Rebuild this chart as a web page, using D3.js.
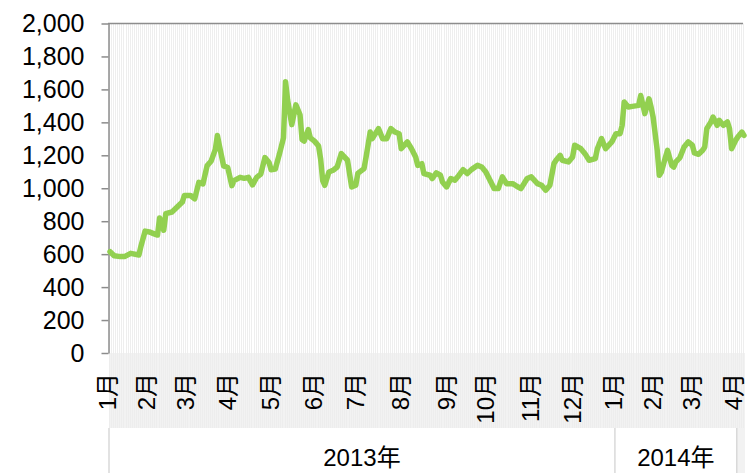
<!DOCTYPE html>
<html><head><meta charset="utf-8">
<script src="https://cdn.jsdelivr.net/npm/d3@7"></script>
<style>body{margin:0;background:#fff;} svg{display:block;}</style>
</head><body><svg id="c" width="749" height="473"></svg>
<script>
// Japanese market holidays (non-trading weekdays) in the period
const holidays = ["2013-01-01","2013-01-02","2013-01-03","2013-01-14","2013-02-11","2013-03-20","2013-04-29","2013-05-03","2013-05-06","2013-07-15","2013-09-16","2013-09-23","2013-10-14","2013-11-04","2013-12-23","2013-12-31","2014-01-01","2014-01-02","2014-01-03","2014-01-13","2014-02-11","2014-03-21"];
const firstDay = "2013-01-01";
const lastDay = "2014-04-07";
const yTicks = [0,200,400,600,800,1000,1200,1400,1600,1800,2000];
const yearLabels = {2013: "2013年", 2014: "2014年"};

const dates = ["2013-01-04","2013-01-08","2013-01-11","2013-01-16","2013-01-21","2013-01-25","2013-01-28","2013-01-30",
"2013-02-01","2013-02-06","2013-02-07","2013-02-08","2013-02-13","2013-02-14","2013-02-19","2013-02-21","2013-02-26","2013-02-27",
"2013-03-04","2013-03-06","2013-03-08","2013-03-12","2013-03-14","2013-03-18","2013-03-21","2013-03-22","2013-03-25","2013-03-27","2013-03-29",
"2013-04-02","2013-04-03","2013-04-08","2013-04-10","2013-04-12","2013-04-16","2013-04-18","2013-04-22","2013-04-24","2013-04-26","2013-04-30",
"2013-05-02","2013-05-08","2013-05-10","2013-05-13","2013-05-14","2013-05-16","2013-05-20","2013-05-22","2013-05-23","2013-05-24","2013-05-28","2013-05-29","2013-05-31",
"2013-06-04","2013-06-05","2013-06-06","2013-06-07","2013-06-11","2013-06-13","2013-06-17","2013-06-19","2013-06-24","2013-06-26","2013-06-28",
"2013-07-01","2013-07-04","2013-07-05","2013-07-09","2013-07-10","2013-07-16","2013-07-18","2013-07-22","2013-07-24","2013-07-26","2013-07-30","2013-07-31",
"2013-08-05","2013-08-07","2013-08-09","2013-08-12","2013-08-14","2013-08-15","2013-08-20","2013-08-21","2013-08-23","2013-08-27","2013-08-28","2013-08-30",
"2013-09-03","2013-09-05","2013-09-09","2013-09-11","2013-09-13","2013-09-18","2013-09-24","2013-09-26","2013-09-30",
"2013-10-02","2013-10-04","2013-10-08","2013-10-10","2013-10-15","2013-10-18","2013-10-22","2013-10-24","2013-10-29","2013-10-31",
"2013-11-06","2013-11-08","2013-11-12","2013-11-14","2013-11-18","2013-11-19","2013-11-21","2013-11-22","2013-11-27","2013-11-29",
"2013-12-02","2013-12-05","2013-12-09","2013-12-11","2013-12-16","2013-12-17","2013-12-19","2013-12-24","2013-12-27",
"2014-01-06","2014-01-08","2014-01-09","2014-01-10","2014-01-15","2014-01-17","2014-01-22","2014-01-23","2014-01-27","2014-01-29","2014-01-30","2014-01-31",
"2014-02-03","2014-02-04","2014-02-05","2014-02-06","2014-02-10","2014-02-12","2014-02-14","2014-02-17","2014-02-18","2014-02-20","2014-02-24","2014-02-26","2014-02-28",
"2014-03-03","2014-03-05","2014-03-07","2014-03-10","2014-03-11","2014-03-13","2014-03-14","2014-03-18","2014-03-19","2014-03-24","2014-03-26","2014-03-27","2014-03-28",
"2014-04-01","2014-04-02","2014-04-04","2014-04-07"];
const values = [615,590,585,585,605,595,650,740,
735,720,716,820,745,846,856,880,916,956,
956,936,1036,1026,1136,1166,1236,1320,1256,1136,1126,
1016,1046,1066,1060,1066,1020,1066,1086,1186,1156,1112,
1116,1206,1306,1646,1536,1386,1506,1446,1296,1286,1356,1306,1286,
1256,1176,1046,1018,1099,1109,1129,1210,1170,1008,1018,
1090,1119,1190,1341,1301,1362,1301,1301,1362,1341,1331,1240,
1281,1240,1190,1139,1149,1089,1079,1059,1093,1079,1038,1008,
1059,1049,1079,1113,1089,1113,1139,1129,1099,
1049,998,998,1069,1028,1028,1012,998,1059,1069,
1028,1018,988,1018,1150,1170,1200,1170,1160,1190,
1261,1240,1210,1170,1180,1240,1301,1240,1281,
1331,1331,1382,1523,1493,1497,1503,1563,1453,1543,1493,1432,
1331,1230,1079,1099,1190,1230,1139,1129,1160,1186,1250,1281,1261,
1214,1206,1230,1250,1362,1402,1432,1382,1412,1382,1402,1362,1240,
1291,1311,1341,1321];

const fmt = d3.timeFormat("%Y-%m-%d");
const parse = d3.timeParse("%Y-%m-%d");
const hol = new Set(holidays);
const days = d3.timeDay.range(parse(firstDay), d3.timeDay.offset(parse(lastDay), 1))
  .filter(d => d.getDay() !== 0 && d.getDay() !== 6 && !hol.has(fmt(d)));
const keys = days.map(fmt);

const L = 109, R = 745, T = 23.5, B = 353, BAND = 428, H = 473;
const x = d3.scaleBand().domain(keys).range([L, R]).paddingInner(0).paddingOuter(0);
const bw = x.bandwidth();
const y = d3.scaleLinear().domain([0, 2000]).range([B, T]);

const svg = d3.select("#c");
const FONT = "'Liberation Sans', Arial, 'Noto Sans CJK JP', sans-serif";

// label band
svg.append("rect").attr("x", L).attr("y", B).attr("width", R - L).attr("height", BAND - B).attr("fill", "#f2f2f2");

// vertical gridlines per category
svg.append("g").selectAll("line").data(keys).join("line")
  .attr("x1", d => Math.round(x(d)) + 0.5).attr("x2", d => Math.round(x(d)) + 0.5)
  .attr("y1", T).attr("y2", B)
  .attr("stroke", "#eeeeee").attr("stroke-width", 1);
svg.append("g").selectAll("line").data(keys).join("line")
  .attr("x1", d => Math.round(x(d)) + 0.5).attr("x2", d => Math.round(x(d)) + 0.5)
  .attr("y1", B).attr("y2", BAND)
  .attr("stroke", "#ededed").attr("stroke-width", 1);

// top border
svg.append("line").attr("x1", L - 1).attr("x2", R - 2).attr("y1", T).attr("y2", T)
  .attr("stroke", "#8c8c8c").attr("stroke-width", 1.5);

// y axis
const yAxis = svg.append("g").attr("transform", `translate(${L - 0.5},0)`)
  .call(d3.axisLeft(y).tickValues(yTicks).tickFormat(d3.format(",")).tickSize(7).tickSizeOuter(0).tickPadding(17));
yAxis.select(".domain").attr("stroke", "#8c8c8c").attr("stroke-width", 1.5);
yAxis.selectAll(".tick line").attr("stroke", "#8c8c8c").attr("stroke-width", 1.5);
yAxis.selectAll(".tick text").attr("font-size", 25).attr("font-family", FONT).attr("fill", "#000");

// line
const data = dates.map((d, i) => ({k: d, v: values[i]}));
svg.append("path").datum(data)
  .attr("fill", "none").attr("stroke", "#92d050").attr("stroke-width", 5.5)
  .attr("stroke-linejoin", "round").attr("stroke-linecap", "round")
  .attr("d", d3.line().x(d => x(d.k) + bw / 2).y(d => y(d.v)));

// month labels at first trading day of each month
const monthFirst = days.filter((d, i) => i === 0 || d.getMonth() !== days[i - 1].getMonth());
svg.append("g").selectAll("text").data(monthFirst).join("text")
  .attr("transform", d => `translate(${x(fmt(d)) + bw / 2 - 2.5},373) rotate(-90)`)
  .attr("text-anchor", "end").attr("dy", "0.35em")
  .attr("font-size", 24).attr("font-family", FONT).attr("fill", "#000")
  .text(d => (d.getMonth() + 1) + "月");

// year row
const yearGroups = d3.groups(days, d => d.getFullYear());
const aprFirst = monthFirst[monthFirst.length - 1];
const yearEnd = x(fmt(aprFirst)) + bw;
svg.append("rect").attr("x", yearEnd).attr("y", BAND).attr("width", R - yearEnd).attr("height", H - BAND).attr("fill", "#f2f2f2");
const yg = svg.append("g");
yearGroups.forEach(([yr, ds], i) => {
  const x0 = x(fmt(ds[0]));
  const x1 = i === yearGroups.length - 1 ? yearEnd : x(fmt(yearGroups[i + 1][1][0]));
  yg.append("line").attr("x1", x0).attr("x2", x0).attr("y1", BAND).attr("y2", H)
    .attr("stroke", "#d9d9d9").attr("stroke-width", 1.5);
  yg.append("text").attr("x", (x0 + x1) / 2).attr("y", 458).attr("dy", "0.35em")
    .attr("text-anchor", "middle").attr("font-size", 24).attr("font-family", FONT).attr("fill", "#000")
    .text(yearLabels[yr]);
});
yg.append("line").attr("x1", yearEnd).attr("x2", yearEnd).attr("y1", BAND).attr("y2", H)
  .attr("stroke", "#d9d9d9").attr("stroke-width", 1.5);
</script></body></html>
